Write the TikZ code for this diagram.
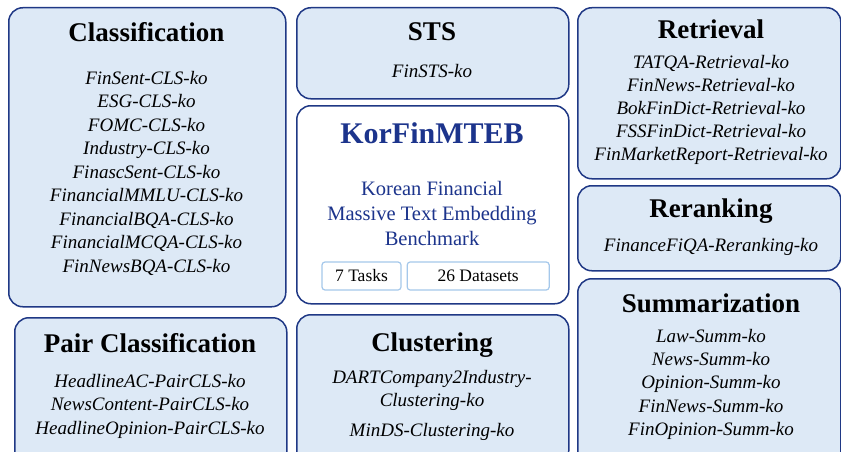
\documentclass[tikz,border=0pt]{standalone}
\usepackage{fontspec}
\setmainfont{Liberation Serif}
\usetikzlibrary{positioning}
\definecolor{cardfill}{RGB}{221,233,246}
\definecolor{cardline}{RGB}{31,56,133}
\definecolor{benchblue}{RGB}{28,52,140}
\definecolor{tagline}{RGB}{165,200,235}

\begin{document}
\begin{tikzpicture}[x=1pt,y=-1pt,
    card/.style={draw=cardline,fill=cardfill,line width=1.5pt,rounded corners=14pt,
      anchor=north west,inner sep=0pt},
    head/.style={anchor=base,font=\fontsize{27}{30}\selectfont\bfseries},
    items/.style={anchor=north,inner sep=0pt,align=center,
      font=\fontsize{19}{23.5}\selectfont\itshape},
    tag/.style={draw=tagline,fill=white,line width=1.2pt,rounded corners=3pt,
      minimum height=28pt,inner sep=0pt,font=\fontsize{17.5}{20}\selectfont}]
  \useasboundingbox (0,0) rectangle (841,452);

  % left column
  \node[card,minimum width=277pt,minimum height=299pt] (clsbox) at (8,7) {};
  \node[head] (clstitle) at (146.5,42) {Classification};
  \node[items] (clsitems) at (146.5,71) {FinSent-CLS-ko\\ESG-CLS-ko\\FOMC-CLS-ko\\
    Industry-CLS-ko\\FinascSent-CLS-ko\\FinancialMMLU-CLS-ko\\FinancialBQA-CLS-ko\\
    FinancialMCQA-CLS-ko\\FinNewsBQA-CLS-ko};

  \node[card,minimum width=272pt,minimum height=150pt] (pairbox) at (14,317) {};
  \node[head] (pairtitle) at (150,352) {Pair Classification};
  \node[items] (pairitems) at (150,374) {HeadlineAC-PairCLS-ko\\
    NewsContent-PairCLS-ko\\HeadlineOpinion-PairCLS-ko};

  % middle column
  \node[card,minimum width=272pt,minimum height=91pt] (stsbox) at (296,7) {};
  \node[head] (ststitle) at (432,41) {STS};
  \node[items] (stsitems) at (432,64) {FinSTS-ko};

  \node[card,fill=white,minimum width=272pt,minimum height=198pt] (mainbox) at (296,105) {};
  \node[anchor=base,text=benchblue,font=\fontsize{30}{34}\selectfont\bfseries]
    (maintitle) at (432,143) {KorFinMTEB};
  \node[anchor=north,inner sep=0pt,align=center,text=benchblue,
    font=\fontsize{20.5}{25}\selectfont] (mainsub) at (432,181)
    {Korean Financial\\Massive Text Embedding\\Benchmark};
  \node[tag,minimum width=79pt] (tasks) at (361.5,276) {7 Tasks};
  \node[tag,minimum width=142pt,right=5pt of tasks] (datasets) {26 Datasets};

  \node[card,minimum width=272pt,minimum height=150pt] (clubox) at (296,314) {};
  \node[head] (clutitle) at (432,351) {Clustering};
  \node[items] (cluitems) at (432,370) {DARTCompany2Industry-\\Clustering-ko\\[6pt]
    MinDS-Clustering-ko};

  % right column
  \node[card,minimum width=263pt,minimum height=171pt] (retbox) at (577,7) {};
  \node[head] (rettitle) at (711,39) {Retrieval};
  \node[items,font=\fontsize{19}{23}\selectfont\itshape] (retitems) at (711,55)
    {TATQA-Retrieval-ko\\FinNews-Retrieval-ko\\BokFinDict-Retrieval-ko\\
    FSSFinDict-Retrieval-ko\\FinMarketReport-Retrieval-ko};

  \node[card,minimum width=263pt,minimum height=85pt] (rerbox) at (577,185) {};
  \node[head] (rertitle) at (711,217) {Reranking};
  \node[items] (reritems) at (711,238) {FinanceFiQA-Reranking-ko};

  \node[card,minimum width=263pt,minimum height=190pt] (sumbox) at (577,278) {};
  \node[head] (sumtitle) at (711,312) {Summarization};
  \node[items,font=\fontsize{19}{23.25}\selectfont\itshape] (sumitems) at (711,329)
    {Law-Summ-ko\\News-Summ-ko\\Opinion-Summ-ko\\FinNews-Summ-ko\\FinOpinion-Summ-ko};
\end{tikzpicture}
\end{document}
